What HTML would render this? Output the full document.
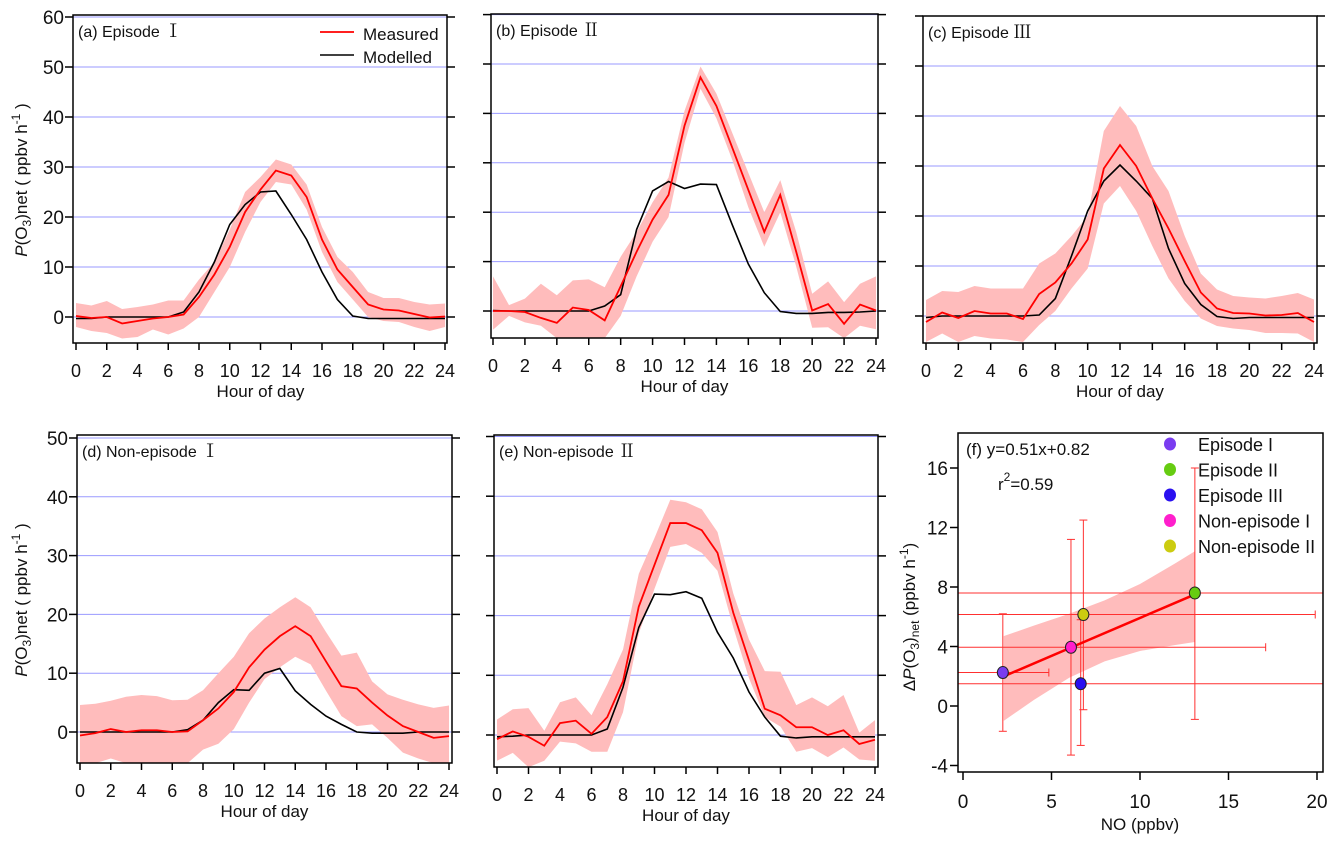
<!DOCTYPE html>
<html><head><meta charset="utf-8">
<style>
html,body{margin:0;padding:0;background:#fff;}
svg{display:block;font-family:"Liberation Sans",Arial,sans-serif;}
</style></head>
<body>
<svg id="fig" width="1343" height="846" viewBox="0 0 1343 846" xmlns="http://www.w3.org/2000/svg"></svg>
<script>
const hours = [0,1,2,3,4,5,6,7,8,9,10,11,12,13,14,15,16,17,18,19,20,21,22,23,24];
const hourTicks = [0,2,4,6,8,10,12,14,16,18,20,22,24];

const aMeas = [0.2,-0.2,0,-1.3,-0.8,-0.3,0,0.5,4,8.5,14,21,25.5,29.3,28.3,24,15.5,9.5,6,2.5,1.5,1.3,0.6,-0.1,0.1];
const aUp   = [2.8,2.3,3.2,1.6,2,2.5,3.3,3.3,7.5,11,17.5,25,28,31.5,30.5,26.5,18,12,9,5,3.8,3.8,3,2.5,2.7];
const aLo   = [-2,-2.8,-3.2,-4.3,-4,-2.5,-3.5,-2.3,0,5,10,17,23,27,26.5,21.5,13,7,3.5,0,-0.8,-1,-2,-2.8,-2];
const aMod  = [-0.3,-0.3,0,0,0,0,0,1,5,11,18.5,22.5,25,25.2,20.5,15.5,9,3.5,0.2,-0.3,-0.3,-0.3,-0.3,-0.3,-0.3];

const bMeas = [0,0,-0.2,-1.4,-2.4,0.7,0.2,-1.9,5,12,18.5,23.5,37.5,47.3,41.5,33,24.5,16,23.5,12,0.1,1.4,-2.6,1.3,0.1];
const bUp   = [7,1.2,2.5,5.5,3.2,6.2,6.4,4.8,11,16,22,27,40.5,49.5,44,36,28,20,26.5,16,3.5,6,1.8,5.5,7];
const bLo   = [-3.8,-1,-2.3,-3,-5.5,-5.5,-5.5,-5.5,-1,7,14,19,34,45,39,30.5,21,13,20,9,-3.4,-3.3,-5.5,-3,-3.7];
const bMod  = [0.1,0,0,0,0,0,0,1,3.3,16.5,24.3,26.2,24.8,25.7,25.6,17.4,9.5,3.7,-0.1,-0.5,-0.5,-0.3,-0.3,-0.2,0];

const cMeas = [-1.2,0.7,-0.4,1,0.5,0.5,-0.6,4.4,6.7,10.5,15.3,29.5,34.2,30,23.5,17.5,11,4.7,1.5,0.6,0.5,0.1,0.2,0.6,-1.2];
const cUp   = [3.2,5,4.8,6,5.5,5.5,5.5,10.5,12.5,16,20,37,42,38,30,25,16,8.5,5.3,4,3.7,3.5,4,4.6,3.3];
const cLo   = [-5.2,-3.5,-5.2,-4,-4.5,-4.7,-5.2,-1.8,1,5.5,9.5,22.5,26,21,14,7.5,3,-0.5,-2,-2.5,-2.8,-3.4,-3.4,-3.5,-5.2];
const cMod  = [-0.3,0,0,0,0,0,0,0.2,3.5,12,21,27,30.2,27,23.5,13.5,6.5,2.3,-0.1,-0.5,-0.3,-0.3,-0.3,-0.3,-0.3];

const dMeas = [-0.6,-0.2,0.5,0,0.3,0.3,0,0.1,2,4,6.8,11,14,16.3,18,16.3,12,7.8,7.4,5,2.8,1,0,-1,-0.7];
const dUp   = [4.6,4.8,5.3,6,6.3,6.1,5.4,5.5,7.1,10,12.8,16.8,19.3,21.2,22.9,21.2,17,13,13.5,8.6,6.4,5.5,4.7,4.1,4.5];
const dLo   = [-5.3,-5.3,-4.5,-5.3,-5.3,-5.3,-5.3,-5.3,-3,-2,0.5,5,9,11,12.8,11.5,7,2.7,1,1.3,-1,-3.5,-4.5,-5.3,-5.3];
const dMod  = [0,0,0,0,0,0,0,0.4,2,5,7.2,7.1,10,10.8,7,4.7,2.7,1.3,0,-0.2,-0.2,-0.2,0,0,0];

const eMeas = [-0.7,0.6,-0.3,-1.8,2,2.4,0.2,3,9,21.5,28.5,35.5,35.5,34.3,30.5,20.5,12.5,4.4,3.3,1.3,1.3,0,0.8,-1.5,-0.8];
const eUp   = [2.6,4.3,4.5,0.7,5.5,6.3,3.3,8.5,14.3,27,33,39.4,39,37.8,34,23.7,16,10.7,10.6,5,6.3,4.8,6.7,0.4,2.5];
const eLo   = [-4.3,-3,-5.4,-4.3,-1.1,-1.4,-2.8,-2.8,3.8,17,24.5,31.5,32,30.5,27.5,18,9.5,3,1.4,-2.8,-2.2,-3.7,-2.1,-4.1,-4.3];
const eMod  = [-0.3,-0.2,0,0,0,0,0,1,8,18,23.6,23.5,24,22.9,17.2,12.9,7.2,3,-0.2,-0.5,-0.3,-0.3,-0.3,-0.3,-0.3];

const fNames = ["Episode I","Episode II","Episode III","Non-episode I","Non-episode II"];
const fColors = ["#7a3cf0","#66cc11","#2a10f0","#ff1fcc","#cccc10"];
const fNO = [2.25,13.1,6.65,6.1,6.8];
const fDP = [2.25,7.6,1.5,3.95,6.15];
const fXerr = [2.6,14,14,11.0,13.1];
const fYhi = [6.2,16,5.8,11.2,12.5];
const fYlo = [-1.7,-0.9,-2.65,-3.3,-0.25];
const fFitX = [2.3,13.1];
const fBandX = [2.3,4,6,8,10,12,13.1];
const fBandUp = [4.7,5.4,6.2,7.1,8.2,9.6,10.4];
const fBandLo = [-1.0,0.4,1.9,3.0,3.7,4.1,4.3];
const fSlope = 0.51, fIntercept = 0.82;
const fYTicks = [-4,0,4,8,12,16];
const fXTicks = [0,5,10,15,20];

const NS = "http://www.w3.org/2000/svg";
const svg = document.getElementById('fig');
function el(tag, attrs, parent){
  const e = document.createElementNS(NS, tag);
  for (const k in attrs) e.setAttribute(k, attrs[k]);
  (parent||svg).appendChild(e);
  return e;
}
function txt(s, attrs, parent){ const t = el('text', attrs, parent); t.textContent = s; return t; }

function panel(p){
  const g = el('g', {});
  
  
  const X = h => p.x0 + (h/24)*(p.x24 - p.x0);
  const Y = v => p.y0 - v*p.ppu;
  p.yTicks.forEach(v => {
    const gl = el('line', {x1:p.L, x2:p.R, y1:Y(v), y2:Y(v), stroke:'#9a9aff', 'stroke-width':1}, g);
    
    
  });
  let d = hours.map((h,i)=>(i?'L':'M')+X(h).toFixed(1)+','+Y(p.up[i]).toFixed(1)).join('');
  for (let i=hours.length-1;i>=0;i--) d += 'L'+X(hours[i]).toFixed(1)+','+Y(p.lo[i]).toFixed(1);
  const clipId = 'clip-'+p.name;
  const cp = el('clipPath', {id:clipId}, g);
  el('rect', {x:p.L, y:p.T, width:p.R-p.L, height:p.B-p.T}, cp);
  const band = el('path', {d:d+'Z', fill:'#ffbcbc', stroke:'none', 'clip-path':'url(#'+clipId+')'}, g);
  
  
  const mod = el('polyline', {points:hours.map((h,i)=>X(h)+','+Y(p.mod[i])).join(' '), fill:'none', stroke:'#000', 'stroke-width':1.6}, g);
  
  
  const meas = el('polyline', {points:hours.map((h,i)=>X(h)+','+Y(p.meas[i])).join(' '), fill:'none', stroke:'#ff0000', 'stroke-width':1.8}, g);
  
  
  const fr = el('rect', {x:p.L, y:p.T, width:p.R-p.L, height:p.B-p.T, fill:'none', stroke:'#000', 'stroke-width':1.5}, g);
  
  
  p.yTicks.forEach(v => {
    el('line', {x1:p.L-8, x2:p.L, y1:Y(v), y2:Y(v), stroke:'#000', 'stroke-width':1.5}, g);
    el('line', {x1:p.R, x2:p.R+8, y1:Y(v), y2:Y(v), stroke:'#000', 'stroke-width':1.5}, g);
    if (p.yLabels){
      const t = txt(String(v), {x:p.L-9, y:Y(v)+7, 'font-size':19, 'text-anchor':'end', fill:'#111'}, g);
      
      
    }
  });
  hourTicks.forEach(h => {
    el('line', {x1:X(h), x2:X(h), y1:p.B, y2:p.B+7, stroke:'#000', 'stroke-width':1.5}, g);
    const t = txt(String(h), {x:X(h), y:p.B+34, 'font-size':18, 'text-anchor':'middle', fill:'#111'}, g);
    
    
  });
  const xt = txt('Hour of day', {x:(p.x0+p.x24)/2, y:p.B+54, 'font-size':17, 'text-anchor':'middle', fill:'#111'}, g);
  
  
  const title = el('text', {x:p.L+5, y:p.T+22, 'font-size':16, fill:'#111'}, g);
  
  
  title.innerHTML = p.title + '<tspan font-family="\'Noto Serif CJK SC\', \'Liberation Serif\', serif" font-size="18">' + p.numeral + '</tspan>';
  if (p.yTitle){
    const cy = p.yTitleY, cx = 27;
    const yt = el('text', {x:cx, y:cy, transform:'rotate(-90 '+cx+' '+cy+')', 'font-size':17, 'text-anchor':'middle', fill:'#111'}, g);
    
    
    yt.innerHTML = '<tspan font-style="italic">P</tspan>(O<tspan font-size="12" dy="4">3</tspan><tspan dy="-4">)net ( ppbv h</tspan><tspan font-size="12" dy="-7">-1</tspan><tspan dy="7"> )</tspan>';
  }
  return {g, X, Y};
}

const yT60 = [0,10,20,30,40,50,60];
const yT50 = [0,10,20,30,40,50];
panel({name:'panel-a-episode-1', title:'(a) Episode ', numeral:'Ⅰ', L:73,R:447,T:15,B:343, x0:76,x24:445, y0:317, ppu:5.0, yTicks:yT60, yLabels:true, yTitle:true, yTitleY:180, meas:aMeas, up:aUp, lo:aLo, mod:aMod});
panel({name:'panel-b-episode-2', title:'(b) Episode ', numeral:'Ⅱ', L:491,R:878,T:14,B:338, x0:493,x24:876, y0:311, ppu:4.94, yTicks:yT60, meas:bMeas, up:bUp, lo:bLo, mod:bMod});
panel({name:'panel-c-episode-3', title:'(c) Episode ', numeral:'Ⅲ', L:923,R:1317,T:16,B:343, x0:926,x24:1314, y0:316, ppu:5.0, yTicks:yT60, meas:cMeas, up:cUp, lo:cLo, mod:cMod});
panel({name:'panel-d-non-episode-1', title:'(d) Non-episode ', numeral:'Ⅰ', L:77,R:452,T:435,B:763, x0:80,x24:449, y0:732, ppu:5.88, yTicks:yT50, yLabels:true, yTitle:true, yTitleY:600, meas:dMeas, up:dUp, lo:dLo, mod:dMod});
panel({name:'panel-e-non-episode-2', title:'(e) Non-episode ', numeral:'Ⅱ', L:494,R:878,T:435,B:767, x0:497,x24:875, y0:735, ppu:5.97, yTicks:yT50, meas:eMeas, up:eUp, lo:eLo, mod:eMod});

const lg = el('g', {});


el('line', {x1:320,x2:354,y1:32,y2:32,stroke:'#ff0000','stroke-width':1.8}, lg);
const l1 = txt('Measured', {x:363,y:40,'font-size':17,fill:'#111'}, lg);


el('line', {x1:320,x2:354,y1:55,y2:55,stroke:'#000','stroke-width':1.6}, lg);
const l2 = txt('Modelled', {x:363,y:63,'font-size':17,fill:'#111'}, lg);



(function(){
  const L=958,R=1323,T=433,B=772;
  const X = v => 963 + v*17.7;
  const Y = v => 706 - v*14.875;
  const g = el('g', {});
  
  
  const cp = el('clipPath', {id:'clipf'}, g);
  el('rect', {x:L, y:T, width:R-L, height:B-T}, cp);
  const cg = el('g', {'clip-path':'url(#clipf)'}, g);
  let d = fBandX.map((x,i)=>(i?'L':'M')+X(x)+','+Y(fBandUp[i])).join('');
  for (let i=fBandX.length-1;i>=0;i--) d += 'L'+X(fBandX[i])+','+Y(fBandLo[i]);
  const band = el('path', {d:d+'Z', fill:'#ffbcbc'}, cg);
  
  
  fNO.forEach((x,i)=>{
    const eb = el('g', {stroke:'#ff3030','stroke-width':1}, cg);
    
    
    el('line', {x1:X(x-fXerr[i]),x2:X(x+fXerr[i]),y1:Y(fDP[i]),y2:Y(fDP[i])}, eb);
    el('line', {x1:X(x+fXerr[i]),x2:X(x+fXerr[i]),y1:Y(fDP[i])-4,y2:Y(fDP[i])+4}, eb);
    el('line', {x1:X(x),x2:X(x),y1:Y(fYhi[i]),y2:Y(fYlo[i])}, eb);
    el('line', {x1:X(x)-4,x2:X(x)+4,y1:Y(fYhi[i]),y2:Y(fYhi[i])}, eb);
    el('line', {x1:X(x)-4,x2:X(x)+4,y1:Y(fYlo[i]),y2:Y(fYlo[i])}, eb);
  });
  const fit = el('line', {x1:X(fFitX[0]),x2:X(fFitX[1]),y1:Y(fSlope*fFitX[0]+fIntercept),y2:Y(fSlope*fFitX[1]+fIntercept),stroke:'#ff0000','stroke-width':2.5}, cg);
  
  
  fNO.forEach((x,i)=>{
    const c = el('ellipse', {cx:X(x),cy:Y(fDP[i]),rx:5.5,ry:6,fill:fColors[i],stroke:'#222','stroke-width':1}, g);
    
    
  });
  const fr = el('rect', {x:L,y:T,width:R-L,height:B-T,fill:'none',stroke:'#000','stroke-width':1.5}, g);
  
  
  fYTicks.forEach(v=>{
    el('line', {x1:L-8,x2:L,y1:Y(v),y2:Y(v),stroke:'#000','stroke-width':1.5}, g);
    const t = txt(String(v), {x:L-10,y:Y(v)+7,'font-size':19,'text-anchor':'end',fill:'#111'}, g);
    
    
  });
  fXTicks.forEach(v=>{
    el('line', {x1:X(v),x2:X(v),y1:B,y2:B+8,stroke:'#000','stroke-width':1.5}, g);
    const t = txt(String(v), {x:X(v),y:808,'font-size':19,'text-anchor':'middle',fill:'#111'}, g);
    
    
  });
  const xt = txt('NO (ppbv)', {x:1140,y:830,'font-size':17,'text-anchor':'middle',fill:'#111'}, g);
  
  
  const yt = el('text', {x:915,y:617,transform:'rotate(-90 915 617)','font-size':17,'text-anchor':'middle',fill:'#111'}, g);
  
  
  yt.innerHTML = 'Δ<tspan font-style="italic">P</tspan>(O<tspan font-size="12" dy="4">3</tspan><tspan dy="-4">)</tspan><tspan font-size="12" dy="4">net</tspan><tspan dy="-4">  (ppbv h</tspan><tspan font-size="12" dy="-7">-1</tspan><tspan dy="7">)</tspan>';
  const eq = txt('(f)  y=0.51x+0.82', {x:966,y:455,'font-size':17,fill:'#111'}, g);
  
  
  const r2 = el('text', {x:998,y:490,'font-size':17,fill:'#111'}, g);
  
  
  r2.innerHTML = 'r<tspan font-size="12" dy="-9">2</tspan><tspan dy="9">=0.59</tspan>';
  fNames.forEach((n,i)=>{
    const yy = 444 + i*25.5;
    const le = el('g', {}, g);
    
    
    el('ellipse', {cx:1170,cy:yy,rx:6,ry:6.5,fill:fColors[i]}, le);
    txt(n, {x:1198,y:yy+7,'font-size':18,fill:'#111'}, le);
  });
})();
</script>
</body></html>
